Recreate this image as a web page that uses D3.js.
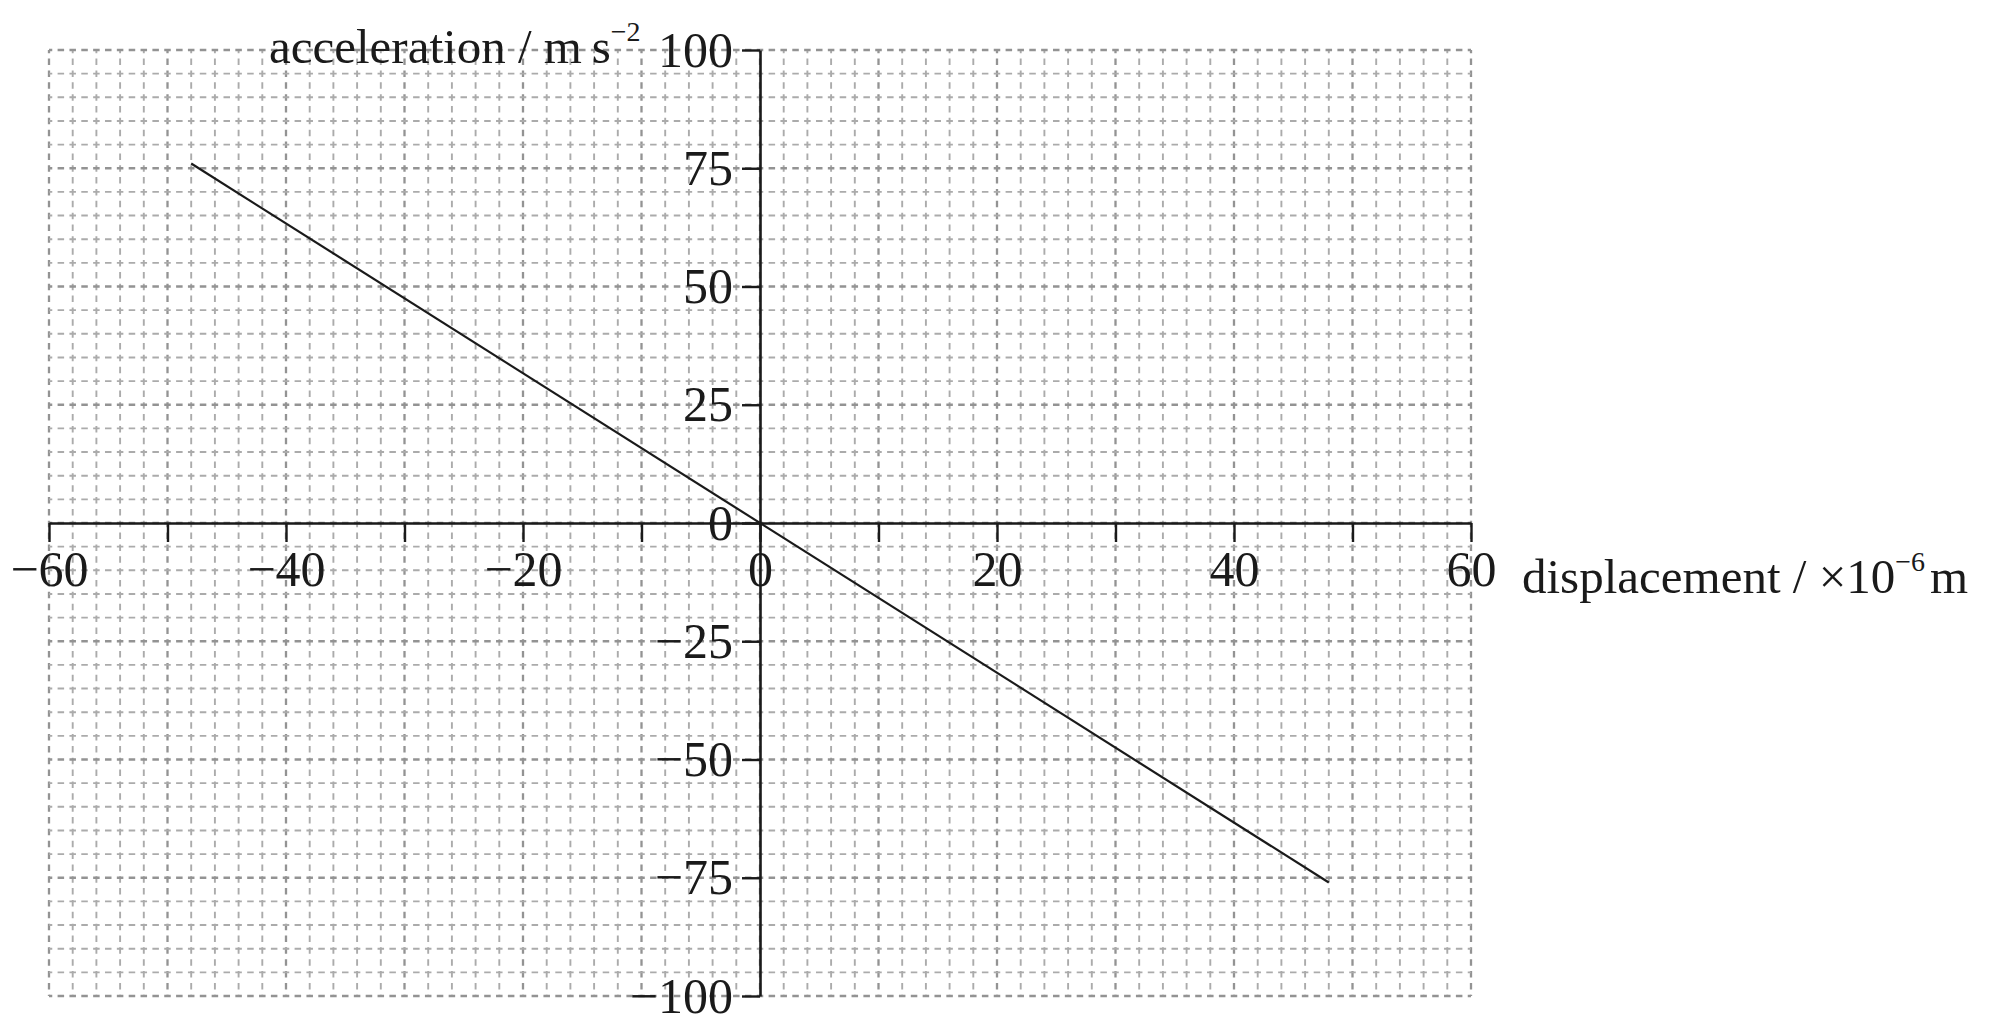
<!DOCTYPE html>
<html>
<head>
<meta charset="utf-8">
<script src="https://cdn.jsdelivr.net/npm/d3@7"></script>
<style>
  html, body { margin: 0; padding: 0; background: #ffffff; }
  svg { display: block; }
  .tick text { font-family: "Liberation Serif", "Times New Roman", serif; }
</style>
</head>
<body>
<div id="chart"></div>
<script>
// data
const displacement = [-48, 48];          // ×10^-6 m
const acceleration = [76, -76];          // m s^-2
const xTickValues = [-60, -50, -40, -30, -20, -10, 0, 10, 20, 30, 40, 50, 60];
const xLabelValues = [-60, -40, -20, 0, 20, 40, 60];
const yTickValues = [-100, -75, -50, -25, 0, 25, 50, 75, 100];

const width = 1999;
const height = 1031;
const FONT = '"Liberation Serif", "Times New Roman", serif';

const svg = d3
  .select("#chart")
  .append("svg")
  .attr("width", width)
  .attr("height", height);

const x = d3.scaleLinear().domain([-60, 60]).range([49, 1471]);
const y = d3.scaleLinear().domain([-100, 100]).range([996, 50]);

// ── grid (graph paper) ──
const half = x(1) - x(0); // dash period, same as half a y cell
const grid = svg.append("g").attr("class", "grid");

const vLines = d3.range(-60, 61, 2);
const hLines = d3.range(-100, 101, 5);

grid
  .selectAll("line.v")
  .data(vLines)
  .enter()
  .append("line")
  .attr("class", "v")
  .attr("x1", (d) => x(d))
  .attr("x2", (d) => x(d))
  .attr("y1", y(100))
  .attr("y2", y(-100))
  .attr("stroke", (d) => (d % 10 === 0 ? "#939393" : "#ababab"))
  .attr("stroke-width", (d) => (d % 10 === 0 ? 2.3 : 1.9))
  .attr("stroke-dasharray", `${half * 0.55} ${half * 0.45}`)
  .attr("stroke-dashoffset", half * 0.275);

grid
  .selectAll("line.h")
  .data(hLines)
  .enter()
  .append("line")
  .attr("class", "h")
  .attr("x1", x(-60))
  .attr("x2", x(60))
  .attr("y1", (d) => y(d))
  .attr("y2", (d) => y(d))
  .attr("stroke", (d) => (d % 25 === 0 ? "#939393" : "#ababab"))
  .attr("stroke-width", (d) => (d % 25 === 0 ? 2.3 : 1.9))
  .attr("stroke-dasharray", `${half * 0.55} ${half * 0.45}`)
  .attr("stroke-dashoffset", half * 0.275);

// ── axes ──
const xAxis = d3
  .axisBottom(x)
  .tickValues(xTickValues)
  .tickSize(19)
  .tickSizeOuter(0)
  .tickPadding(8)
  .tickFormat((d) => (xLabelValues.includes(d) ? d3.format("d")(d) : ""));

const yAxis = d3
  .axisLeft(y)
  .tickValues(yTickValues)
  .tickSize(18)
  .tickSizeOuter(0)
  .tickPadding(9)
  .tickFormat(d3.format("d"));

const gx = svg
  .append("g")
  .attr("transform", `translate(0,${y(0)})`)
  .call(xAxis);

const gy = svg
  .append("g")
  .attr("transform", `translate(${x(0)},0)`)
  .call(yAxis);

[gx, gy].forEach((g) => {
  g.selectAll(".domain").attr("stroke", "#1a1a1a").attr("stroke-width", 2.6);
  g.selectAll(".tick line").attr("stroke", "#1a1a1a").attr("stroke-width", 2.4);
  g.selectAll(".tick text")
    .attr("fill", "#1a1a1a")
    .style("font-family", FONT)
    .style("font-size", "50px");
});

// ── the line ──
const pts = displacement.map((d, i) => [d, acceleration[i]]);
svg
  .append("path")
  .datum(pts)
  .attr("fill", "none")
  .attr("stroke", "#1a1a1a")
  .attr("stroke-width", 2.2)
  .attr(
    "d",
    d3
      .line()
      .x((d) => x(d[0]))
      .y((d) => y(d[1])),
  );

// ── axis titles ──
const yTitle = svg
  .append("text")
  .attr("x", 269)
  .attr("y", 63)
  .attr("fill", "#1a1a1a")
  .style("font-family", FONT)
  .style("font-size", "49px");
yTitle.append("tspan").text("acceleration / m\u2009s");
yTitle
  .append("tspan")
  .attr("dy", -22)
  .style("font-size", "28px")
  .text("\u22122");

const xTitle = svg
  .append("text")
  .attr("x", 1522)
  .attr("y", 593)
  .attr("fill", "#1a1a1a")
  .style("font-family", FONT)
  .style("font-size", "49px");
xTitle.append("tspan").text("displacement / \u00d710");
xTitle
  .append("tspan")
  .attr("dy", -22)
  .style("font-size", "28px")
  .text("\u22126");
xTitle.append("tspan").attr("dy", 22).attr("dx", 5).text("m");
</script>
</body>
</html>
